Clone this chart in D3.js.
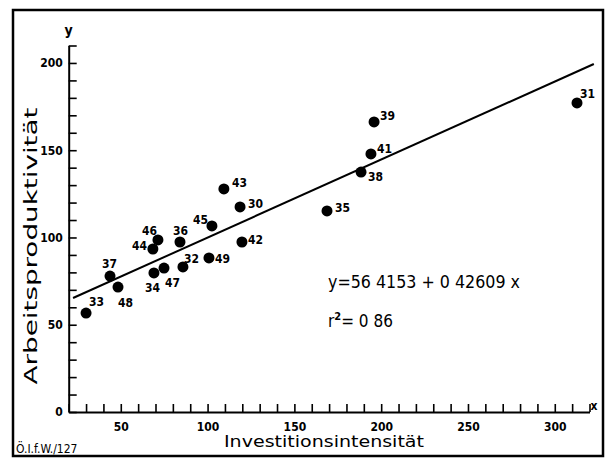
<!DOCTYPE html>
<html><head><meta charset="utf-8">
<script src="https://cdn.jsdelivr.net/npm/d3@7"></script>
<style>body{margin:0;background:#fff}svg{display:block}</style>
</head><body>
<script>
// ---- data ----
const pointIds = ["30","31","32","33","34","35","36","37","38","39","41","42","43","44","45","46","47","48","49"];
const investition = [118.7,312.8,85.8,30.0,69.1,168.8,84.1,43.8,188.4,195.9,194.1,119.8,109.4,68.5,102.5,71.4,74.9,48.4,100.8];
const produktivitaet = [117.5,177.1,83.1,56.7,79.7,115.2,97.4,77.9,137.5,166.2,147.9,97.4,127.8,93.4,106.6,98.6,82.5,71.6,88.3];
const fitX = [22.5, 322.5];
const fitY = [65.3, 199.4];
const xTickLabels = [50,100,150,200,250,300];
const yTickLabels = [0,50,100,150,200];
const equationText = "y=56 4153 + 0 42609 x";
const rSquaredText = "= 0 86";

// ---- label placement (offsets from point centre) ----
const labelOffset = {
  "30":[8,1],"31":[3,-5],"32":[1,-4],"33":[3,-7],"34":[-9,19],"35":[8,1],"36":[-7,-7],
  "37":[-8,-8],"38":[7,9],"39":[6,-2],"41":[6,-1],"42":[6,2],"43":[8,-2],"44":[-21,1],
  "45":[-19,-2],"46":[-16,-5],"47":[1,19],"48":[0,20],"49":[6,5]
};

const W = 611, H = 460;
const svg = d3.select("body").append("svg").attr("width", W).attr("height", H);

// outer frame
svg.append("rect").attr("x",13).attr("y",10).attr("width",590).attr("height",446)
  .attr("fill","none").attr("stroke","#000").attr("stroke-width",2.5);

const x = d3.scaleLinear().domain([20, 320]).range([68.7, 589.5]);
const y = d3.scaleLinear().domain([0, 210]).range([412, 45.5]);

const numFont = "'DejaVu Sans Condensed','DejaVu Sans',sans-serif";

// x axis: minor ticks
const xMinor = d3.range(20, 321, 10);
svg.append("g").attr("transform", `translate(0,${y(0)})`)
  .call(d3.axisBottom(x).tickValues(xMinor).tickSizeInner(-8).tickSizeOuter(0).tickFormat(""));
const gxl = svg.append("g").attr("transform", `translate(0,${y(0)})`)
  .call(d3.axisBottom(x).tickValues(xTickLabels).tickSize(0).tickPadding(10));
gxl.select(".domain").remove();

// y axis
const yMinor = d3.range(0, 211, 10);
svg.append("g").attr("transform", `translate(${x(20)},0)`)
  .call(d3.axisLeft(y).tickValues(yMinor).tickSizeInner(-8).tickSizeOuter(0).tickFormat(""));
const gyl = svg.append("g").attr("transform", `translate(${x(20)},0)`)
  .call(d3.axisLeft(y).tickValues(yTickLabels).tickSize(0).tickPadding(6));
gyl.select(".domain").remove();

svg.selectAll(".domain").attr("stroke","#000").attr("stroke-width",2);
svg.selectAll(".tick line").attr("stroke","#000").attr("stroke-width",1.6);
svg.selectAll(".tick text").attr("font-family",numFont).attr("font-weight","bold")
  .attr("font-size",12).attr("fill","#000");

// axis letters
svg.append("text").attr("x", x(20)).attr("y", 35).attr("text-anchor","middle")
  .attr("font-family",numFont).attr("font-weight","bold").attr("font-size",14).text("y");
svg.append("text").attr("x", 594).attr("y", 410).attr("text-anchor","middle")
  .attr("font-family",numFont).attr("font-weight","bold").attr("font-size",12).text("x");

// regression line
const line = d3.line().x(d => x(d[0])).y(d => y(d[1]));
svg.append("path").datum(d3.zip(fitX, fitY)).attr("d", line)
  .attr("fill","none").attr("stroke","#000").attr("stroke-width",2);

// points
const pts = d3.zip(pointIds, investition, produktivitaet);
svg.append("g").selectAll("circle").data(pts).join("circle")
  .attr("cx", d => x(d[1])).attr("cy", d => y(d[2])).attr("r", 5.5).attr("fill","#000");
svg.append("g").selectAll("text").data(pts).join("text")
  .attr("x", d => x(d[1]) + labelOffset[d[0]][0])
  .attr("y", d => y(d[2]) + labelOffset[d[0]][1])
  .attr("font-family",numFont).attr("font-weight","bold").attr("font-size",12)
  .text(d => d[0]);

// equation
svg.append("text").attr("x",328).attr("y",288).attr("font-family",numFont)
  .attr("font-size",17).attr("textLength",192).attr("lengthAdjust","spacingAndGlyphs")
  .text(equationText);
const rt = svg.append("text").attr("x",328).attr("y",327).attr("font-family",numFont).attr("font-size",17);
rt.append("tspan").text("r");
rt.append("tspan").attr("dy",-7).attr("font-size",11).attr("font-weight","bold").text("2");
rt.append("tspan").attr("dy",7).text(rSquaredText);

// axis titles
svg.append("text").attr("x", 324).attr("y", 447).attr("text-anchor","middle")
  .attr("font-family","'DejaVu Sans',sans-serif").attr("font-size",15)
  .attr("textLength",200).attr("lengthAdjust","spacingAndGlyphs").text("Investitionsintensität");
svg.append("text").attr("transform","translate(37,246) rotate(-90)").attr("text-anchor","middle")
  .attr("font-family","'DejaVu Sans',sans-serif").attr("font-size",18)
  .attr("textLength",277).attr("lengthAdjust","spacingAndGlyphs").text("Arbeitsproduktivität");

// footnote
svg.append("text").attr("x",16).attr("y",453).attr("font-family",numFont)
  .attr("font-size",12).text("Ö.I.f.W./127");
</script>
</body></html>
